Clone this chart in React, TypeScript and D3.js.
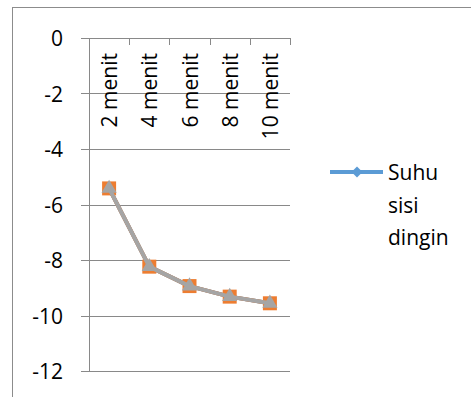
import React from 'react';
import * as d3 from 'd3';

const categories = ['2 menit', '4 menit', '6 menit', '8 menit', '10 menit'];
const suhuSisiDingin = [-5.42, -8.24, -8.94, -9.32, -9.56];
const seriesOrange = [-5.42, -8.24, -8.94, -9.32, -9.56];
const seriesGray = [-5.42, -8.24, -8.94, -9.32, -9.56];
const yTicks = [0, -2, -4, -6, -8, -10, -12];

const W = 471;
const H = 397;
const FONT = '"Open Sans", sans-serif';

export default function App() {
  const x = d3.scaleBand<string>().domain(categories).range([89, 290]);
  const y = d3.scaleLinear().domain([-12, 0]).range([371, 38]);
  const cx = (c: string) => (x(c) ?? 0) + x.bandwidth() / 2;

  const line = d3.line<number>()
    .x((_, i) => cx(categories[i]))
    .y(d => y(d));

  const square = d3.symbol().type(d3.symbolSquare).size(196)() || '';
  const triangle = d3.symbol().type(d3.symbolTriangle).size(100)() || '';
  const diamond = d3.symbol().type(d3.symbolSquare).size(60)() || '';

  const series = [
    { values: suhuSisiDingin, color: '#5B9BD5', marker: diamond, rot: 45 },
    { values: seriesOrange, color: '#ED7D31', marker: square, rot: 0 },
    { values: seriesGray, color: '#A5A5A5', marker: triangle, rot: 0 },
  ];

  return (
    <svg width={W} height={H} style={{ position: 'absolute', left: 0, top: 0, background: '#fff' }}>
      {/* chart frame */}
      <rect x={12.5} y={7.5} width={500} height={420} fill="#fff" stroke="#8c8c8c" strokeWidth={1} />

      {/* gridlines + y ticks */}
      {yTicks.map(t => (
        <g key={t}>
          <line x1={81} x2={290} y1={Math.round(y(t)) + 0.5} y2={Math.round(y(t)) + 0.5} stroke="#898989" strokeWidth={1} />
          <text x={63} y={y(t)} textAnchor="end" dominantBaseline="central" fontFamily={FONT} fontSize={21} fill="#000">
            {t}
          </text>
        </g>
      ))}
      {/* value axis line */}
      <line x1={89.5} x2={89.5} y1={38} y2={371} stroke="#898989" strokeWidth={1} />

      {/* category ticks and labels (axis crosses at 0) */}
      {categories.concat(['']).map((c, i) => {
        const xx = 89 + i * x.bandwidth();
        return (
          <line key={'t' + i} x1={Math.round(xx) + 0.5} x2={Math.round(xx) + 0.5} y1={38} y2={45} stroke="#898989" strokeWidth={1} />
        );
      })}
      {categories.map(c => (
        <text key={c} transform={`translate(${cx(c)},53) rotate(-90)`} textAnchor="end" dominantBaseline="central"
          fontFamily={FONT} fontSize={21} fill="#000">
          {c}
        </text>
      ))}

      {/* series */}
      {series.map((s, si) => (
        <g key={si}>
          <path d={line(s.values) || ''} fill="none" stroke={s.color} strokeWidth={4} strokeLinejoin="round" />
          {s.values.map((v, i) => (
            <path key={i} d={s.marker} fill={s.color}
              transform={`translate(${cx(categories[i])},${y(v)}) rotate(${s.rot})`} />
          ))}
        </g>
      ))}

      {/* legend */}
      <line x1={330} x2={383} y1={172} y2={172} stroke="#5B9BD5" strokeWidth={4} />
      <path d={diamond} fill="#5B9BD5" transform="translate(357,172) rotate(45)" />
      <text fontFamily={FONT} fontSize={21} fill="#000">
        <tspan x={388} y={180}>Suhu</tspan>
        <tspan x={388} y={213}>sisi</tspan>
        <tspan x={388} y={245}>dingin</tspan>
      </text>
    </svg>
  );
}
